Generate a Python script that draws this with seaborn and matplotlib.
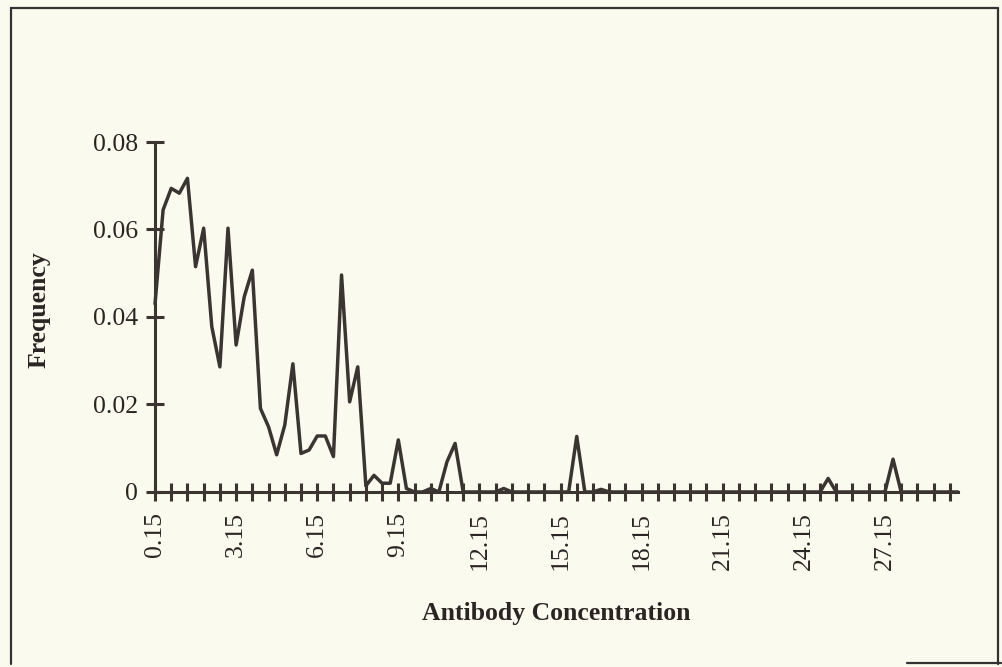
import numpy as np
import pandas as pd
import matplotlib
matplotlib.use('Agg')
import matplotlib.pyplot as plt
from matplotlib.lines import Line2D
import seaborn as sns

# antibody concentration classes (0.15 .. 29.85, step 0.3)
concentration = np.round(0.15 + 0.3 * np.arange(100), 2)

frequency = [
    0.043, 0.0645, 0.0694, 0.0683, 0.0717, 0.0515, 0.0603, 0.0378, 0.0286, 0.0603,
    0.0336, 0.0446, 0.0507, 0.0191, 0.0149, 0.0085, 0.0153, 0.0293, 0.0088, 0.0096,
    0.0128, 0.0128, 0.0081, 0.0496, 0.0206, 0.0286, 0.0014, 0.0038, 0.002, 0.002,
    0.0119, 0.0008, 0.0, 0.0, 0.0008, 0.0, 0.0069, 0.0111, 0.0, 0.0,
    0.0, 0.0, 0.0, 0.0008, 0.0, 0.0, 0.0, 0.0, 0.0, 0.0,
    0.0, 0.0, 0.0127, 0.0, 0.0, 0.0006, 0.0, 0.0, 0.0, 0.0,
    0.0, 0.0, 0.0, 0.0, 0.0, 0.0, 0.0, 0.0, 0.0, 0.0,
    0.0, 0.0, 0.0, 0.0, 0.0, 0.0, 0.0, 0.0, 0.0, 0.0,
    0.0, 0.0, 0.0, 0.0031, 0.0, 0.0, 0.0, 0.0, 0.0, 0.0,
    0.0, 0.0075, 0.0, 0.0, 0.0, 0.0, 0.0, 0.0, 0.0, 0.0,
]

x_labels = ['0.15', '3.15', '6.15', '9.15', '12.15', '15.15', '18.15', '21.15', '24.15', '27.15']
y_labels = ['0', '0.02', '0.04', '0.06', '0.08']

df = pd.DataFrame({'Antibody Concentration': concentration, 'Frequency': frequency})

bg = '#fbfaef'
ink = '#3a3531'

sns.set_style('ticks')
plt.rcParams['font.family'] = ['Liberation Serif', 'DejaVu Serif']

fig = plt.figure(figsize=(10.02, 6.67), dpi=100, facecolor=bg)
ax = fig.add_axes([0.1547, 0.2624, 0.8013, 0.5247])
ax.set_facecolor(bg)

sns.lineplot(data=df, x='Antibody Concentration', y='Frequency', ax=ax,
             color=ink, linewidth=2.5, clip_on=False)

ax.set_xlim(0.15, 29.85)
ax.set_ylim(0, 0.08)

ax.set_xticks([float(v) for v in x_labels])
ax.set_xticklabels(x_labels, rotation=90, fontsize=18.5)
ax.set_xticks(np.round(0.15 + 0.6 * np.arange(50), 2), minor=True)
ax.set_yticks([float(v) for v in y_labels])
ax.set_yticklabels(y_labels, fontsize=18.5)

for which in ['major', 'minor']:
    ax.tick_params(axis='both', which=which, direction='inout', length=13,
                   width=2.2, color=ink, labelcolor='#2a2522')
ax.tick_params(axis='x', pad=8)
ax.tick_params(axis='y', pad=6)

sns.despine(ax=ax)
for side in ['left', 'bottom']:
    ax.spines[side].set_linewidth(2.2)
    ax.spines[side].set_color(ink)

ax.set_xlabel('Antibody Concentration', fontsize=18.5, fontweight='bold', color='#2a2522')
ax.set_ylabel('Frequency', fontsize=18.5, fontweight='bold', color='#2a2522')
ax.xaxis.set_label_coords(0.5, -0.315)
ax.yaxis.set_label_coords(-0.13, 0.52)

# outer frame of the scanned chart
frame = dict(color='#333333', linewidth=1.6, transform=fig.transFigure)
fig.add_artist(Line2D([0.011, 0.011], [0.005, 0.988], **frame))
fig.add_artist(Line2D([0.011, 0.996], [0.988, 0.988], **frame))
fig.add_artist(Line2D([0.996, 0.996], [0.005, 0.988], **frame))
fig.add_artist(Line2D([0.905, 0.999], [0.006, 0.006], **frame))

fig.savefig('out.png', dpi=100, facecolor=bg)
